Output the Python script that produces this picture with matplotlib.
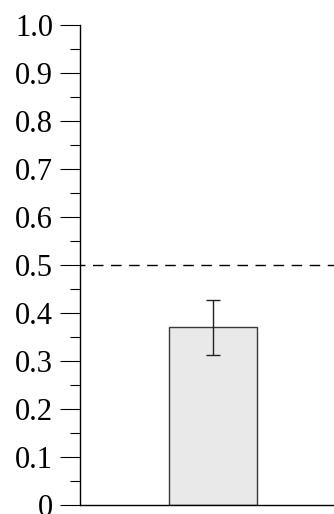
import matplotlib
matplotlib.use('Agg')
import matplotlib.pyplot as plt
from matplotlib.ticker import MultipleLocator, FuncFormatter

# data
categories = ['']
means = [0.37]
errors = [0.058]
chance = 0.5

plt.rcParams['font.family'] = ['Liberation Serif', 'DejaVu Serif']

fig = plt.figure(figsize=(3.34, 5.14), dpi=100)
ax = fig.add_axes([80/334, 9/514, 254/334, 480/514])

ax.bar(range(len(categories)), means, width=0.8, color='#e9e9e9',
       edgecolor='#3a3a3a', linewidth=1.0, zorder=2)
ax.errorbar(range(len(categories)), means, yerr=errors, fmt='none',
            ecolor='#222222', elinewidth=1.0, capsize=5, capthick=1.0, zorder=3)
ax.axhline(chance, color='black', linewidth=1.0, linestyle=(4, (7.6, 5.4)), zorder=1)

ax.set_xlim(-1.21, 1.1)
ax.set_ylim(0, 1.0)
ax.yaxis.set_major_locator(MultipleLocator(0.1))
ax.yaxis.set_minor_locator(MultipleLocator(0.05))
ax.yaxis.set_major_formatter(FuncFormatter(lambda v, p: '0' if abs(v) < 1e-9 else '%.1f' % v))
ax.tick_params(axis='y', which='major', length=14.4, width=0.8, labelsize=22, pad=5)
ax.tick_params(axis='y', which='minor', length=7.2, width=0.8)
ax.set_xticks([])

ax.spines['top'].set_visible(False)
ax.spines['right'].set_visible(False)
ax.spines['left'].set_linewidth(1.0)
ax.spines['bottom'].set_linewidth(1.0)

fig.savefig('out.png', dpi=100)
